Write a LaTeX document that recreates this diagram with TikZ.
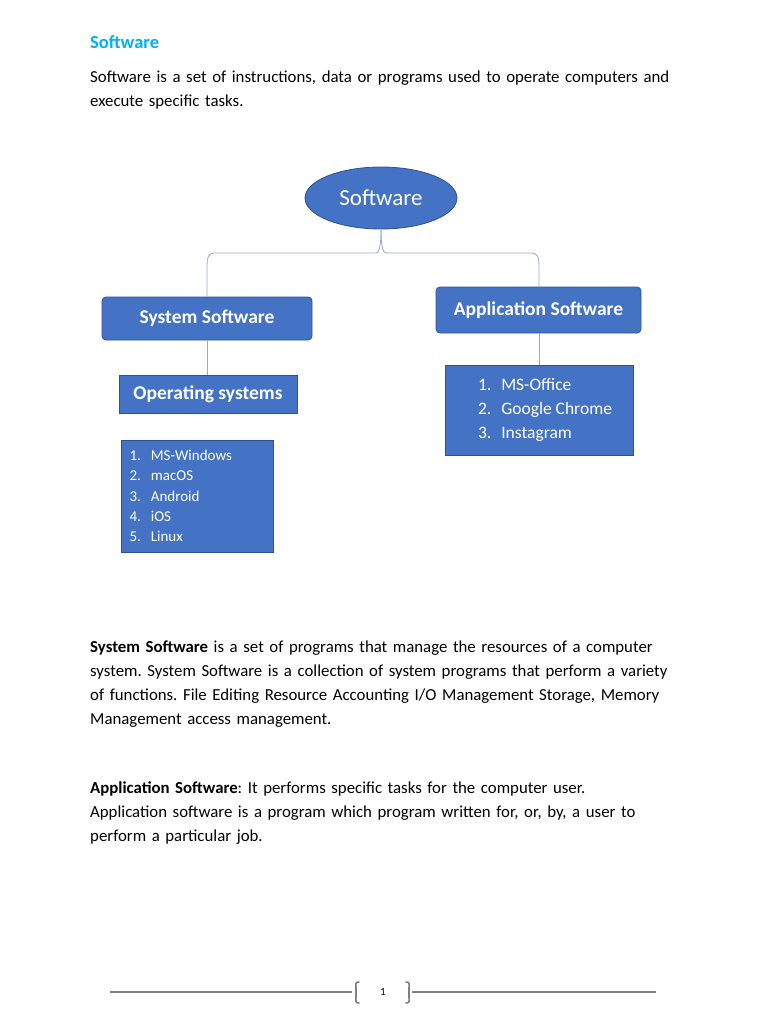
\documentclass[tikz,border=0pt]{standalone}
\usepackage{fontspec}
\setmainfont{Carlito}
\usetikzlibrary{shapes.geometric}
\definecolor{boxblue}{HTML}{4472C4}
\definecolor{boxedge}{HTML}{2F528F}
\definecolor{linkblue}{HTML}{8FAADC}
\definecolor{titleblue}{HTML}{00B0F0}
\frenchspacing
\begin{document}
\begin{tikzpicture}[x=1pt,y=-1pt,
  blk/.style={draw=boxedge,fill=boxblue,text=white,line width=0.8pt},
  para/.style={anchor=north west,align=left,text width=650pt,inner sep=0pt,font=\fontsize{16.8}{24}\selectfont},
  link/.style={draw=linkblue,line width=0.8pt}]
\useasboundingbox (0,0) rectangle (768,1024);
\node[anchor=west,inner sep=0pt,text=titleblue,font=\fontsize{18.5}{20}\selectfont\bfseries] (title) at (90,42) {Software};
\node[para] (intro) at (90,71) {Software is a set of instructions, data or programs used to operate computers and\\execute specific tasks.};

\node[blk,ellipse,minimum width=152pt,minimum height=62pt,font=\fontsize{23}{26}\selectfont] (sw) at (381,198) {Software};
\node[blk,rounded corners=4pt,minimum width=210pt,minimum height=43pt,font=\fontsize{19.5}{22}\selectfont\bfseries] (sys) at (207,318.5) {System Software};
\node[blk,rounded corners=4pt,minimum width=205pt,minimum height=46pt,font=\fontsize{19.5}{22}\selectfont\bfseries] (app) at (538.5,310) {Application Software};
\node[blk,minimum width=178pt,minimum height=38pt,font=\fontsize{19.5}{22}\selectfont\bfseries] (os) at (208,394) {Operating systems};
\node[blk,minimum width=152pt,minimum height=112pt,font=\fontsize{15}{20.3}\selectfont,align=left] (oslist) at (197,496) {\parbox{135pt}{1.\hspace{10pt}MS-Windows\\2.\hspace{10pt}macOS\\3.\hspace{10pt}Android\\4.\hspace{10pt}iOS\\5.\hspace{10pt}Linux}};
\node[blk,minimum width=188pt,minimum height=90pt,font=\fontsize{17.5}{24}\selectfont,align=left] (applist) at (539,410) {\parbox{170pt}{\leftskip=24pt 1.\hspace{10pt}MS-Office\\2.\hspace{10pt}Google Chrome\\3.\hspace{10pt}Instagram}};

\coordinate (jl) at (376,253);
\coordinate (jr) at (386,253);
\draw[link] (sw.south) .. controls (381,250) and (378,253) .. (jl) -- (215,253) .. controls (208,253) and (207,258) .. (207,265) -- (sys.north -| 207,0);
\draw[link] (sw.south) .. controls (381,250) and (384,253) .. (jr) -- (531,253) .. controls (538,253) and (539,258) .. (539,265) -- (app.north -| 539,0);
\draw[link] (sys.south -| 207,0) -- (os.north -| 207,0);
\draw[link] (app.south -| 539,0) -- (applist.north -| 539,0);

\node[para] (p1) at (90,641) {\textbf{System Software} is a set of programs that manage the resources of a computer\\system. System Software is a collection of system programs that perform a variety\\of functions. File Editing Resource Accounting I/O Management Storage, Memory\\Management access management.};
\node[para] (p2) at (90,781) {\textbf{Application Software}: It performs specific tasks for the computer user.\\Application software is a program which program written for, or, by, a user to\\perform a particular job.};

\node[font=\fontsize{11}{12}\selectfont,inner sep=0pt] (pg) at (383,992) {1};
\coordinate (fl) at (110,992);
\coordinate (fr) at (656,992);
\draw[gray,line width=1.6pt] (fl) -- (352,992);
\draw[gray,line width=1.6pt] (412,992) -- (fr);
\draw[gray,line width=1.6pt,line cap=round] (359,982) .. controls (355,982) and (356,984) .. (356,988) -- (356,997) .. controls (356,1001) and (355,1003) .. (359,1003);
\draw[gray,line width=1.6pt,line cap=round] (406,982) .. controls (410,982) and (409,984) .. (409,988) -- (409,997) .. controls (409,1001) and (410,1003) .. (406,1003);
\end{tikzpicture}
\end{document}
